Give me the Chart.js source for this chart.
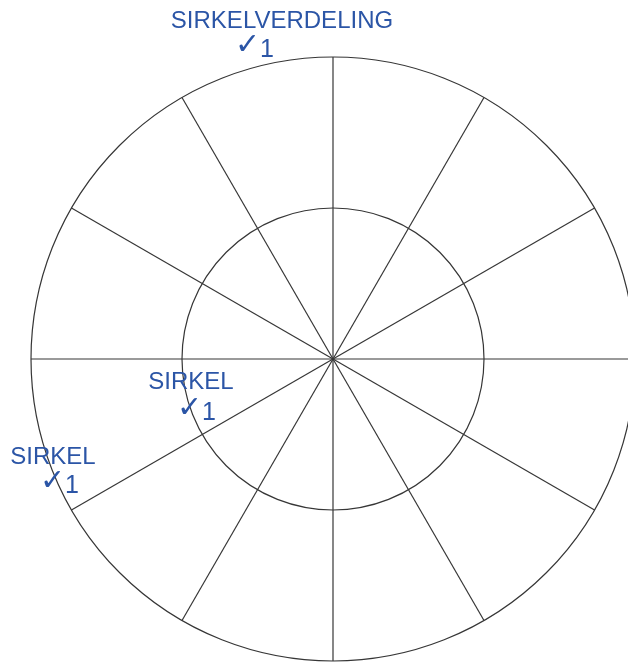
<!DOCTYPE html>
<html>
<head>
<meta charset="utf-8">
<script src="https://cdn.jsdelivr.net/npm/chart.js@4"></script>
<style>
    html, body { margin: 0; padding: 0; background: #fff; overflow: hidden; }
    #wrap { position: relative; width: 666px; height: 662px; }
</style>
</head>
<body>
<div id="wrap"><canvas id="circleChart"></canvas></div>
<script>
    // 12 sectors of 30 degrees each
    const sectors = ['0°', '30°', '60°', '90°', '120°', '150°', '180°', '210°', '240°', '270°', '300°', '330°'];
    // ring values (inner circle, outer circle)
    const rings = [1, 2];
    // blue marking notes
    const noteTitles = ['SIRKELVERDELING', 'SIRKEL', 'SIRKEL'];
    const noteScores = ['1', '1', '1'];

    const blue = '#2b55a6';
    const lineColor = '#363636';

    // Draw the blue notes on top
    const notesPlugin = {
        id: 'notes',
        afterDraw(chart) {
            const ctx = chart.ctx;
            const spots = [
                { x: 282, y: 28, cx: 255, cy: 57 },
                { x: 191, y: 389, cx: 197, cy: 420 },
                { x: 53, y: 464, cx: 60, cy: 493 }
            ];
            ctx.save();
            ctx.fillStyle = blue;
            ctx.textBaseline = 'alphabetic';
            noteTitles.forEach((t, i) => {
                const s = spots[i];
                ctx.font = '24px "Liberation Sans", Arial, sans-serif';
                ctx.textAlign = 'center';
                ctx.fillText(t, s.x, s.y);
                ctx.font = '200 30px "DejaVu Sans ExtraLight", "DejaVu Sans", sans-serif';
                ctx.textAlign = 'right';
                ctx.fillText('✓', s.cx + 5, s.cy - 3);
                ctx.font = '25px "Liberation Sans", Arial, sans-serif';
                ctx.textAlign = 'left';
                ctx.fillText(noteScores[i], s.cx + 5, s.cy);
            });
            ctx.restore();
        }
    };

    function createCircleChart() {
        const ctx = document.getElementById('circleChart').getContext('2d');
        const circleChart = new Chart(ctx, {
            type: 'radar',
            data: {
                labels: sectors,
                datasets: [{
                    label: 'Sirkelverdeling',
                    data: [],
                    borderWidth: 0,
                    pointRadius: 0
                }]
            },
            options: {
                responsive: true,
                maintainAspectRatio: false,
                animation: false,
                layout: {
                    padding: { top: 57, bottom: 1, left: 31, right: 31 }
                },
                scales: {
                    r: {
                        min: 0,
                        max: rings[rings.length - 1],
                        ticks: {
                            display: false,
                            stepSize: rings[1] - rings[0]
                        },
                        grid: {
                            circular: true,
                            color: lineColor,
                            lineWidth: 1.2
                        },
                        angleLines: {
                            display: true,
                            color: lineColor,
                            lineWidth: 1.2
                        },
                        pointLabels: {
                            display: false
                        }
                    }
                },
                plugins: {
                    legend: { display: false },
                    tooltip: { enabled: false }
                }
            },
            plugins: [notesPlugin]
        });
    }

    document.addEventListener('DOMContentLoaded', function () {
        createCircleChart();
    });
</script>
</body>
</html>
